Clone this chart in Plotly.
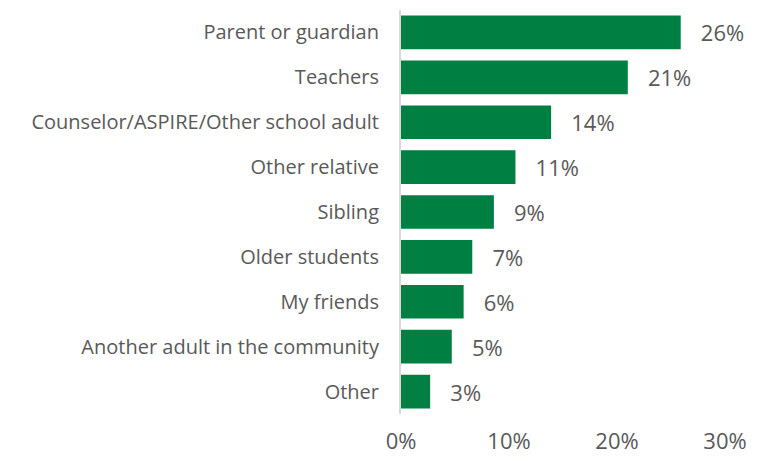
import plotly.graph_objects as go

categories = [
    "Parent or guardian",
    "Teachers",
    "Counselor/ASPIRE/Other school adult",
    "Other relative",
    "Sibling",
    "Older students",
    "My friends",
    "Another adult in the community",
    "Other",
]
shares = [0.259, 0.210, 0.139, 0.106, 0.086, 0.066, 0.058, 0.047, 0.027]
tick_vals = [0, 0.1, 0.2, 0.3]
tick_text = ["0%", "10%", "20%", "30%"]

BAR_GREEN = "#007F42"
TEXT_GRAY = "#595959"
FONT = "'Open Sans', Lato, sans-serif"

fig = go.Figure(
    go.Bar(
        x=shares,
        y=categories,
        orientation="h",
        marker=dict(color=BAR_GREEN, line=dict(width=0)),
        width=0.75,
        texttemplate="   %{x:.0%}",
        textposition="outside",
        cliponaxis=False,
        textfont=dict(size=22, color=TEXT_GRAY, family=FONT),
        hovertemplate="%{y}: %{x:.0%}<extra></extra>",
    )
)

# page body adds an 8px offset, so margins are trimmed on top/left
fig.update_layout(
    width=764,
    height=461,
    paper_bgcolor="white",
    plot_bgcolor="white",
    font=dict(family=FONT, color=TEXT_GRAY, size=20),
    margin=dict(l=393, r=47, t=2, b=55),
    showlegend=False,
    xaxis=dict(
        range=[0, 0.30],
        tickvals=tick_vals,
        ticktext=tick_text,
        showgrid=False,
        zeroline=False,
        showline=False,
        tickfont=dict(size=22, color=TEXT_GRAY),
        ticklabelstandoff=12,
    ),
    yaxis=dict(
        autorange="reversed",
        showgrid=False,
        showline=True,
        linecolor="#d9d9d9",
        linewidth=2,
        ticks="",
        tickfont=dict(size=20, color=TEXT_GRAY),
        ticklabelstandoff=16,
    ),
)

fig.write_html("out.html")
